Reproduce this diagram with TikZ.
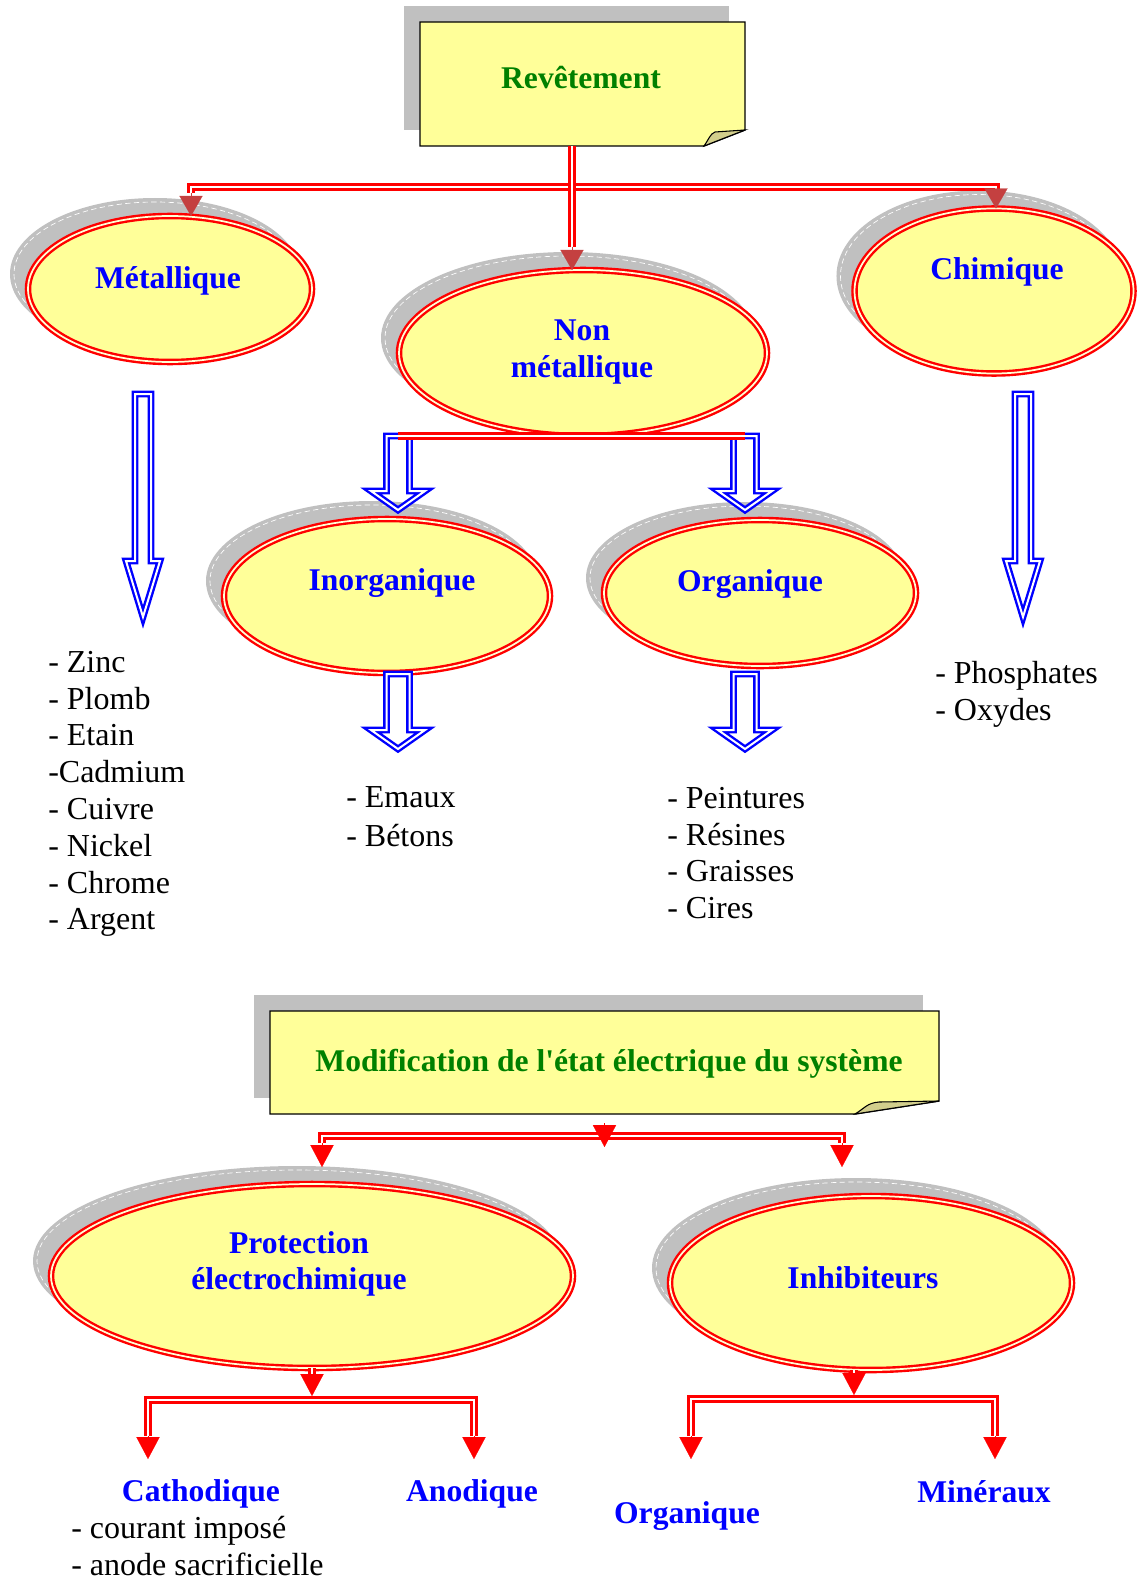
\documentclass[tikz,border=0pt]{standalone}
\usepackage{fontspec}
\setmainfont{Liberation Serif}
\usetikzlibrary{arrows.meta,calc,shapes.geometric}

\definecolor{jauneNote}{RGB}{255,255,153}
\definecolor{grisOmbre}{RGB}{192,192,192}
\definecolor{pliNote}{RGB}{210,206,140}
\definecolor{vertTitre}{RGB}{0,128,0}
\definecolor{rougeSombre}{RGB}{196,64,64}

\begin{document}
\begin{tikzpicture}[x=0.75pt,y=0.75pt,yscale=-1,xscale=1,
  boite/.style={inner sep=0pt,outer sep=0pt},
  note/.style={draw=black,line width=1.1pt,fill=jauneNote},
  pli/.style={draw=black,line width=0.8pt,fill=pliNote},
  titre/.style={inner sep=0pt,text=vertTitre,font=\fontsize{23.7}{28}\selectfont\bfseries},
  bulle/.style={ellipse,draw=red,line width=1.8pt,double=jauneNote!40!white,double distance=1.3pt,fill=jauneNote,inner sep=0pt,outer sep=0pt},
  etiquette/.style={inner sep=0pt,text=blue,align=center,font=\fontsize{23.7}{27.5}\selectfont\bfseries},
  liste/.style={inner sep=0pt,anchor=west,align=left,font=\fontsize{24}{27.6}\selectfont},
  dbl/.style={draw=red,line width=1.8pt,double=white,double distance=1.9pt},
  pointeS/.style={draw=rougeSombre,line width=0.1pt,-{Triangle[length=15pt,width=17.25pt]}},
  pointeR/.style={draw=red,line width=0.1pt,-{Triangle[length=16.5pt,width=17.5pt]}},
  creuse/.style={draw=blue,line width=1.8pt,double=white,double distance=1.5pt,line join=miter},
  ombre/.style={fill=grisOmbre},
  traitOmbre/.style={draw=white,line width=0.5pt,dash pattern=on 4pt off 2.5pt}
]
\useasboundingbox (0,0) rectangle (1139,1580);

%Shape: Note Revetement
\node[boite,minimum width=243.75pt,minimum height=93pt] (rev) at (582.5,84) {};
\fill[ombre] ($(rev.north west)+(-16,-16)$) rectangle ($(rev.south east)+(-16,-16)$);
\draw[note] (rev.north west) -- (rev.north east) -- ($(rev.south east)+(0,-16)$) -- ($(rev.south east)+(-41,0)$) -- (rev.south west) -- cycle;
\draw[pli] ($(rev.south east)+(-41,0)$) .. controls ($(rev.south east)+(-36,-7)$) and ($(rev.south east)+(-35,-12)$) .. ($(rev.south east)+(-30,-14)$) -- ($(rev.south east)+(0,-16)$) -- cycle;

%Shape: Ellipse shadows
\fill[ombre] (155,274) ellipse [x radius=108.75pt,y radius=57pt];
\draw[traitOmbre] (155,274) ellipse [x radius=105.75pt,y radius=54pt];
\fill[ombre] (979,276) ellipse [x radius=106.9pt,y radius=64.1pt];
\draw[traitOmbre] (979,276) ellipse [x radius=103.9pt,y radius=61.1pt];
\fill[ombre] (568,338) ellipse [x radius=140.25pt,y radius=64.5pt];
\draw[traitOmbre] (568,338) ellipse [x radius=137.25pt,y radius=61.5pt];
\fill[ombre] (372,581) ellipse [x radius=124.5pt,y radius=60pt];
\draw[traitOmbre] (372,581) ellipse [x radius=121.5pt,y radius=57pt];
\fill[ombre] (745,578) ellipse [x radius=119.25pt,y radius=57pt];
\draw[traitOmbre] (745,578) ellipse [x radius=116.25pt,y radius=54pt];

%Shape: Ellipses
\node[bulle,minimum width=213pt,minimum height=109.5pt] (met) at (170,289) {};
\node[bulle,minimum width=209.25pt,minimum height=123.75pt] (chim) at (994,291) {};
\node[bulle,minimum width=276pt,minimum height=124.5pt] (nonmet) at (583,353) {};
\node[bulle,minimum width=244.5pt,minimum height=115.5pt] (inorg) at (387,596) {};
\node[bulle,minimum width=234pt,minimum height=109.5pt] (org) at (760,593) {};

%Block arrows
\coordinate (fm) at (143,394);
\coordinate (fc) at (1023,394);
\coordinate (fi1) at (398,436);
\coordinate (fo1) at (745,436);
\coordinate (fi2) at (398,674);
\coordinate (fo2) at (745,674);
\draw[creuse] (fm) ++(-8,0) -- ++(0,167) -- ++(-9,0) -- ++(17,56) -- ++(17,-56) -- ++(-9,0) -- ++(0,-167) -- cycle;
\draw[creuse] (fc) ++(-8,0) -- ++(0,167) -- ++(-9,0) -- ++(17,56) -- ++(17,-56) -- ++(-9,0) -- ++(0,-167) -- cycle;
\draw[creuse] (fi1) ++(-11.5,0) -- ++(0,55) -- ++(-15.5,0) -- ++(27,19) -- ++(27,-19) -- ++(-15.5,0) -- ++(0,-55) -- cycle;
\draw[creuse] (fo1) ++(-11.5,0) -- ++(0,55) -- ++(-15.5,0) -- ++(27,19) -- ++(27,-19) -- ++(-15.5,0) -- ++(0,-55) -- cycle;
\draw[creuse] (fi2) ++(-11.5,0) -- ++(0,56) -- ++(-15.5,0) -- ++(27,19) -- ++(27,-19) -- ++(-15.5,0) -- ++(0,-56) -- cycle;
\draw[creuse] (fo2) ++(-11.5,0) -- ++(0,56) -- ++(-15.5,0) -- ++(27,19) -- ++(27,-19) -- ++(-15.5,0) -- ++(0,-56) -- cycle;

%Straight Lines
\coordinate (barG) at (191,187);
\coordinate (barD) at (996,187);
\coordinate (jonc) at (572,187);
\coordinate (pnm) at (572,247);
\draw[dbl] ($(barG)+(0,6)$) |- (barD) -- ++(0,6);
\draw[dbl] (rev.south -| jonc) -- (pnm);
\draw[pointeS] ($(barG)+(0,6)$) -- (barG |- met.north);
\draw[pointeS] ($(barD)+(0,6)$) -- (barD |- chim.north);
\draw[pointeS] (pnm) -- (pnm |- nonmet.north);
\draw[dbl] (fi1) -- (fo1);

% Text Node
\node[titre] (revT) at (581,78) {Revêtement};
\node[etiquette] (metT) at (168,281) {Métallique};
\node[etiquette] (chimT) at (997,272) {Chimique};
\node[etiquette] (nonmetT) at (582,352) {Non\\métallique};
\node[etiquette] (inorgT) at (392,583) {Inorganique};
\node[etiquette] (orgT) at (750,584) {Organique};
\node[liste] (lmet) at (48,794) {- Zinc\\- Plomb\\- Etain\\-Cadmium\\- Cuivre\\- Nickel\\- Chrome\\- Argent};
\node[liste] (linorg) at (346,817) {- Emaux\\[1.5pt]- Bétons};
\node[liste] (lorg) at (667,853) {- Peintures\\- Résines\\- Graisses\\- Cires};
\node[liste] (lchim) at (935,694) {- Phosphates\\- Oxydes};

%Shape: Note Modification
\node[boite,minimum width=501.75pt,minimum height=77.25pt] (mod) at (604.5,1062.5) {};
\fill[ombre] ($(mod.north west)+(-16,-16)$) rectangle ($(mod.south east)+(-16,-16)$);
\draw[note] (mod.north west) -- (mod.north east) -- ($(mod.south east)+(0,-13)$) -- ($(mod.south east)+(-84,0)$) -- (mod.south west) -- cycle;
\draw[pli] ($(mod.south east)+(-84,0)$) .. controls ($(mod.south east)+(-74,-6)$) and ($(mod.south east)+(-72,-11)$) .. ($(mod.south east)+(-60,-12)$) -- ($(mod.south east)+(0,-13)$) -- cycle;

%Shape: Ellipse shadows
\fill[ombre] (297,1261) ellipse [x radius=198pt,y radius=71.25pt];
\draw[traitOmbre] (297,1261) ellipse [x radius=195pt,y radius=68.25pt];
\fill[ombre] (856,1268) ellipse [x radius=153pt,y radius=67.5pt];
\draw[traitOmbre] (856,1268) ellipse [x radius=150pt,y radius=64.5pt];

%Shape: Ellipses
\node[bulle,minimum width=391.5pt,minimum height=138pt] (prot) at (312,1276) {};
\node[bulle,minimum width=301.5pt,minimum height=130.5pt] (inhib) at (871,1283) {};

%Straight Lines
\coordinate (mG) at (322,1143);
\coordinate (mD) at (842,1143);
\draw[dbl] (mG) -- ++(0,-7) -| (mD);
\draw[pointeR] ($(mod.south)+(0,9)$) -- ++(0,24);
\draw[pointeR] (mG) -- ++(0,24);
\draw[pointeR] (mD) -- ++(0,24);

\draw[dbl] (prot.south) -- ++(0,6) coordinate (p0);
\draw[pointeR] (p0) -- ++(0,22);
\coordinate (cG) at (148,1436);
\coordinate (cD) at (474,1436);
\draw[dbl] (cG) -- ++(0,-36) -| (cD);
\draw[pointeR] (cG) -- ++(0,23);
\draw[pointeR] (cD) -- ++(0,23);

\coordinate (i0) at (854,1373);
\draw[dbl] (i0 |- inhib.south) -- (i0);
\draw[pointeR] (i0) -- ++(0,22);
\coordinate (oG) at (691,1436);
\coordinate (oD) at (995,1436);
\draw[dbl] (oG) -- ++(0,-37) -| (oD);
\draw[pointeR] (oG) -- ++(0,23);
\draw[pointeR] (oD) -- ++(0,23);

% Text Node
\node[titre] (modT) at (609,1064) {Modification de l\textquotesingle état électrique du système};
\node[etiquette] (protT) at (299,1264) {Protection\\électrochimique};
\node[etiquette] (inhibT) at (863,1278) {Inhibiteurs};
\node[etiquette] (cathT) at (201,1494) {Cathodique};
\node[etiquette] (anodT) at (472,1494) {Anodique};
\node[etiquette] (orgbT) at (687,1516) {Organique};
\node[etiquette] (minT) at (984,1492) {Minéraux};
\node[liste] (lcath) at (71,1546) {- courant imposé\\- anode sacrificielle};

\end{tikzpicture}
\end{document}
